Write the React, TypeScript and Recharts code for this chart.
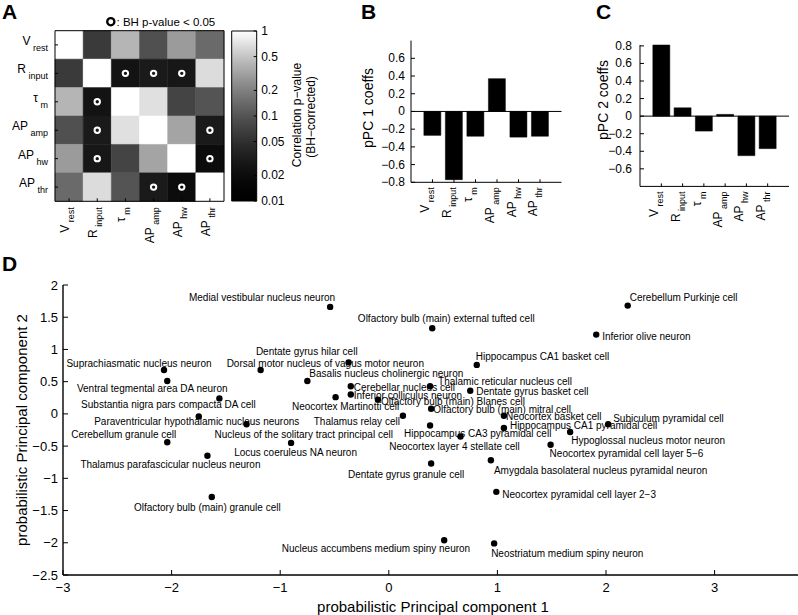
import React from 'react';
import {
  ScatterChart,
  Scatter,
  BarChart,
  Bar,
  XAxis,
  YAxis,
  ReferenceArea,
  ReferenceLine,
  Label,
} from 'recharts';

const FONT = '"Liberation Sans", Arial, Helvetica, sans-serif';

// ---------------- data ----------------
const featureMain = ['V', 'R', '\u03C4', 'AP', 'AP', 'AP'];
const featureSub = ['rest', 'input', 'm', 'amp', 'hw', 'thr'];

// BH-corrected correlation p-values (rows/cols in feature order)
const pVrest = [1, 0.062, 0.41, 0.093, 0.29, 0.143];
const pRinput = [0.062, 1, 0.025, 0.03, 0.028, 0.67];
const pTau = [0.41, 0.025, 1, 0.7, 0.075, 0.1];
const pAPamp = [0.093, 0.03, 0.7, 1, 0.33, 0.03];
const pAPhw = [0.29, 0.028, 0.075, 0.33, 1, 0.02];
const pAPthr = [0.143, 0.67, 0.1, 0.03, 0.02, 1];
const pValueRows = [pVrest, pRinput, pTau, pAPamp, pAPhw, pAPthr];
const significance = 0.05;
const colorbarTicks = [0.01, 0.02, 0.05, 0.1, 0.2, 0.5, 1];

const pc1Coeffs = [-0.27, -0.77, -0.28, 0.37, -0.29, -0.28];
const pc2Coeffs = [0.81, 0.095, -0.17, 0.02, -0.45, -0.37];
const coeffTicksB = [-0.8, -0.6, -0.4, -0.2, 0, 0.2, 0.4, 0.6];
const coeffTicksC = [-0.6, -0.4, -0.2, 0, 0.2, 0.4, 0.6, 0.8];

const neuronNames = [
  'Medial vestibular nucleus neuron',
  'Olfactory bulb (main) external tufted cell',
  'Cerebellum Purkinje cell',
  'Inferior olive neuron',
  'Dentate gyrus hilar cell',
  'Dorsal motor nucleus of vagus motor neuron',
  'Hippocampus CA1 basket cell',
  'Suprachiasmatic nucleus neuron',
  'Basalis nucleus cholinergic neuron',
  'Ventral tegmental area DA neuron',
  'Cerebellar nucleus cell',
  'Thalamic reticular nucleus cell',
  'Dentate gyrus basket cell',
  'Inferior colliculus neuron',
  'Olfactory bulb (main) Blanes cell',
  'Neocortex Martinotti cell',
  'Substantia nigra pars compacta DA cell',
  'Olfactory bulb (main) mitral cell',
  'Paraventricular hypothalamic nucleus neurons',
  'Thalamus relay cell',
  'Neocortex basket cell',
  'Subiculum pyramidal cell',
  'Hippocampus CA1 pyramidal cell',
  'Nucleus of the solitary tract principal cell',
  'Hippocampus CA3 pyramidal cell',
  'Hypoglossal nucleus motor neuron',
  'Cerebellum granule cell',
  'Locus coeruleus NA neuron',
  'Neocortex layer 4 stellate cell',
  'Neocortex pyramidal cell layer 5\u22126',
  'Thalamus parafascicular nucleus neuron',
  'Dentate gyrus granule cell',
  'Amygdala basolateral nucleus pyramidal neuron',
  'Neocortex pyramidal cell layer 2\u22123',
  'Olfactory bulb (main) granule cell',
  'Nucleus accumbens medium spiny neuron',
  'Neostriatum medium spiny neuron',
];
const pc1Scores = [
  -0.54, 0.4, 2.2, 1.91, -0.37, -1.18, 0.81, -2.07, -0.75, -2.04, -0.35, 0.38, 0.75,
  -0.35, -0.1, -0.49, -1.56, 0.39, -1.75, 0.13, 1.06, 2.02, 1.06, -1.31, 0.38, 1.67,
  -2.04, -0.9, 0.66, 1.49, -1.67, 0.39, 0.94, 0.99, -1.63, 0.51, 0.97,
];
const pc2Scores = [
  1.66, 1.33, 1.68, 1.23, 0.8, 0.68, 0.76, 0.68, 0.51, 0.51, 0.43, 0.43, 0.36,
  0.3, 0.22, 0.26, 0.24, 0.08, -0.04, -0.03, -0.03, -0.16, -0.22, -0.16, -0.18, -0.28,
  -0.44, -0.45, -0.35, -0.48, -0.65, -0.77, -0.72, -1.21, -1.29, -1.96, -2.01,
];
const pcXTicks = [-3, -2, -1, 0, 1, 2, 3];
const pcYTicks = [-2.5, -2, -1.5, -1, -0.5, 0, 0.5, 1, 1.5, 2];

// label layout (anchor, pixel offsets from the dot) - annotation placement only
const labelPlacement: [string, number, number][] = [
  ['e', 5, -9], ['m', 14, -10], ['s', 2, -8], ['s', 6, 1.5], ['e', 9, -10.5],
  ['s', -34, -7], ['s', -1, -8], ['m', -25, -7], ['s', 2, -8], ['m', -15, 7.5],
  ['s', 3, 1], ['s', 8, -5], ['s', 6, 1], ['s', 3, 0.5], ['s', 3, 1.5],
  ['m', 10, 9], ['m', -51, 6.5], ['s', 2, 1], ['m', -2, 5], ['e', -3, 6],
  ['s', 2, 1], ['s', 5, -6], ['s', 6, -3], ['s', -32, 10], ['s', -26, 8],
  ['s', 1, 9], ['e', 9, -8], ['m', 4.5, 9.5], ['m', -6, 10], ['s', -1, 9],
  ['m', -37, 9], ['e', 33, 10.5], ['s', 3, 10], ['s', 6, 3], ['m', -4.5, 10],
  ['e', 26, 8], ['s', -3, 10],
];

// ---------------- derived tables ----------------
const heatCells = pValueRows.flatMap((row, r) => row.map((p, c) => ({ r, c, p })));
const sigCells = heatCells
  .filter((d) => d.p < significance)
  .map((d) => ({ colPos: d.c + 0.5, rowPos: d.r + 0.5 }));
const pc1Data = pc1Coeffs.map((coeff, idx) => ({ idx, coeff }));
const pc2Data = pc2Coeffs.map((coeff, idx) => ({ idx, coeff }));
const neuronData = neuronNames.map((name, k) => ({ name, k, pc1: pc1Scores[k], pc2: pc2Scores[k] }));
const colorbarData = colorbarTicks.map((p) => ({ x: 0.5, p }));

const GAMMA = 1.6;
const grayLevel = (t: number) => Math.round(255 * Math.pow(Math.min(1, Math.max(0, t)), GAMMA));
const grayFor = (p: number) => {
  const g = grayLevel((Math.log10(p) + 2) / 2);
  return `rgb(${g},${g},${g})`;
};
const gradStops = Array.from({ length: 41 }, (_, k) => k / 40);

const fmt = (v: number) => (v < 0 ? '\u2212' : '') + String(Math.abs(v));
const anchorMap: Record<string, 'start' | 'middle' | 'end'> = { s: 'start', m: 'middle', e: 'end' };

// ---------------- ticks ----------------
const FeatureRotated = ({ x, y, i }: any) => (
  <text
    x={x}
    y={y}
    textAnchor="end"
    transform={`rotate(-90 ${x} ${y})`}
    fontFamily={FONT}
    fontSize={12}
    fill="#000"
  >
    <tspan>{featureMain[i]}</tspan>
    <tspan fontSize={9} dy={5}>{'\u00A0' + featureSub[i]}</tspan>
  </text>
);

const FeatureTickX = (p: any) => {
  const i = Math.floor(Number(p.payload.value));
  const shift = p.shift || 0;
  return (
    <g>
      <line x1={p.x} y1={p.y} x2={p.x} y2={p.y - 3} stroke="#000" strokeWidth={1} />
      <FeatureRotated x={p.x + shift} y={p.y + (p.gap || 6)} i={i} />
    </g>
  );
};

const HeatTickY = (p: any) => {
  const i = Math.floor(Number(p.payload.value));
  return (
    <g>
      <line x1={p.x} y1={p.y} x2={p.x + 3} y2={p.y} stroke="#000" strokeWidth={1} />
      <text x={p.x - 7} y={p.y} textAnchor="end" fontFamily={FONT} fontSize={12} fill="#000">
        <tspan>{featureMain[i]}</tspan>
        <tspan fontSize={9} dy={6}>{'\u00A0' + featureSub[i]}</tspan>
      </text>
    </g>
  );
};

const LeftTick = (p: any) => (
  <g>
    <line x1={p.x} y1={p.y} x2={p.x + (p.len || 4)} y2={p.y} stroke="#000" strokeWidth={1} />
    <text
      x={p.x - (p.gap || 6)}
      y={p.y}
      textAnchor="end"
      dominantBaseline="central"
      fontFamily={FONT}
      fontSize={p.fs || 12}
      fill="#000"
    >
      {fmt(p.payload.value)}
    </text>
  </g>
);

const BottomTick = (p: any) => (
  <g>
    <line x1={p.x} y1={p.y} x2={p.x} y2={p.y - (p.len || 5)} stroke="#000" strokeWidth={1} />
    <text
      x={p.x}
      y={p.y + (p.gap || 12)}
      textAnchor="middle"
      dominantBaseline="central"
      fontFamily={FONT}
      fontSize={p.fs || 13}
      fill="#000"
    >
      {fmt(p.payload.value)}
    </text>
  </g>
);

const CbTick = (p: any) => (
  <g>
    <line x1={p.x} y1={p.y} x2={p.x - 3} y2={p.y} stroke="#000" strokeWidth={1} />
    <text x={p.x + 4.5} y={p.y} dominantBaseline="central" fontFamily={FONT} fontSize={12} fill="#000">
      {String(p.payload.value)}
    </text>
  </g>
);

const rotatedTitle = (x: number, y: number, text: string, size: number) => () => (
  <text
    x={x}
    y={y}
    transform={`rotate(-90 ${x} ${y})`}
    textAnchor="middle"
    dominantBaseline="central"
    fontFamily={FONT}
    fontSize={size}
    fill="#000"
  >
    {text}
  </text>
);

const flatTitle = (x: number, y: number, text: string, size: number) => () => (
  <text x={x} y={y} textAnchor="middle" dominantBaseline="central" fontFamily={FONT} fontSize={size} fill="#000">
    {text}
  </text>
);

// ---------------- panels ----------------
const heatTicks = [0.5, 1.5, 2.5, 3.5, 4.5, 5.5];

function HeatmapPanel() {
  return (
    <ScatterChart width={228} height={250} margin={{ top: 30.7, right: 4, bottom: 0, left: 0 }}>
      <XAxis
        type="number"
        dataKey="colPos"
        domain={[0, 6]}
        ticks={heatTicks}
        interval={0}
        height={48.7}
        axisLine={false}
        tickLine={false}
        tickSize={0}
        tickMargin={0}
        tick={(p: any) => <FeatureTickX {...p} gap={6} shift={0} />}
      />
      <YAxis
        type="number"
        dataKey="rowPos"
        domain={[0, 6]}
        reversed
        ticks={heatTicks}
        interval={0}
        width={55}
        axisLine={false}
        tickLine={false}
        tickSize={0}
        tickMargin={0}
        tick={(p: any) => <HeatTickY {...p} />}
      />
      {heatCells.map((d) => (
        <ReferenceArea
          key={`cell-${d.r}-${d.c}`}
          x1={d.c}
          x2={d.c + 1}
          y1={d.r}
          y2={d.r + 1}
          fill={grayFor(d.p)}
          fillOpacity={1}
          stroke={grayFor(d.p)}
          strokeWidth={0.5}
        />
      ))}
      <ReferenceArea x1={0} x2={6} y1={0} y2={6} fill="none" fillOpacity={0} stroke="#000" strokeWidth={1} />
      <Scatter
        data={sigCells}
        isAnimationActive={false}
        shape={(p: any) => <circle cx={p.cx} cy={p.cy} r={2.7} fill="none" stroke="#fff" strokeWidth={2} />}
      />
    </ScatterChart>
  );
}

function ColorbarPanel() {
  return (
    <ScatterChart width={100} height={250} margin={{ top: 31, right: 0, bottom: 49, left: 6.7 }}>
      <defs>
        <linearGradient id="cbGrad" x1="0" y1="0" x2="0" y2="1">
          {gradStops.map((o) => {
            const g = grayLevel(1 - o);
            return <stop key={o} offset={o} stopColor={`rgb(${g},${g},${g})`} />;
          })}
        </linearGradient>
      </defs>
      <XAxis type="number" dataKey="x" domain={[0, 1]} hide />
      <YAxis
        type="number"
        dataKey="p"
        scale="log"
        domain={[0.01, 1]}
        allowDataOverflow
        ticks={colorbarTicks}
        interval={0}
        orientation="right"
        width={68.3}
        axisLine={false}
        tickLine={false}
        tickSize={0}
        tickMargin={0}
        tick={(p: any) => <CbTick {...p} />}
      >
        <Label content={rotatedTitle(72.3, 115, 'Correlation p\u2212value', 12)} />
      </YAxis>
      <ReferenceArea
        x1={0}
        x2={1}
        y1={0.01}
        y2={1}
        fill="url(#cbGrad)"
        fillOpacity={1}
        stroke="#000"
        strokeWidth={1}
        label={rotatedTitle(85.7, 117, '(BH\u2212corrected)', 12)}
      />
      <Scatter data={colorbarData} isAnimationActive={false} shape={() => <g />} />
    </ScatterChart>
  );
}

function CoeffPanel({
  data,
  ticks,
  title,
  plotTop,
  plotBottom,
  yAxisWidth,
  rightMargin,
  titleX,
  titleY,
}: any) {
  return (
    <BarChart
      width={yAxisWidth === 81 ? 240 : 228}
      height={250}
      data={data}
      margin={{ top: plotTop, right: rightMargin, bottom: 0, left: 0 }}
      barCategoryGap="10%"
    >
      <XAxis
        dataKey="idx"
        type="category"
        padding={{ left: 10.7, right: 10.7 }}
        height={250 - plotBottom}
        interval={0}
        axisLine={{ stroke: '#000', strokeWidth: 1 }}
        tickLine={false}
        tickSize={0}
        tickMargin={0}
        tick={(p: any) => <FeatureTickX {...p} gap={5} shift={-3} />}
      />
      <YAxis
        type="number"
        domain={[-0.8, 0.8]}
        ticks={ticks}
        interval={0}
        width={yAxisWidth}
        axisLine={{ stroke: '#000', strokeWidth: 1 }}
        tickLine={false}
        tickSize={0}
        tickMargin={0}
        tick={(p: any) => <LeftTick {...p} gap={yAxisWidth === 81 ? 6 : 8} fs={12} />}
      >
        <Label content={rotatedTitle(titleX, titleY, title, 14)} />
      </YAxis>
      <ReferenceLine y={0} stroke="#000" strokeWidth={1} />
      <Bar dataKey="coeff" fill="#000" stroke="#000" strokeWidth={0.5} isAnimationActive={false} />
    </BarChart>
  );
}

const NeuronMark = (p: any) => {
  const { cx, cy, payload } = p;
  const [anchor, dx, dy] = labelPlacement[payload.k];
  return (
    <g>
      <circle cx={cx} cy={cy} r={3.2} fill="#000" />
      <text
        x={cx + dx}
        y={cy + dy}
        textAnchor={anchorMap[anchor]}
        dominantBaseline="central"
        fontFamily={FONT}
        fontSize={10}
        fill="#000"
      >
        {payload.name}
      </text>
    </g>
  );
};

function ScoresPanel() {
  return (
    <ScatterChart width={798} height={365} margin={{ top: 35, right: 0, bottom: 0, left: 0 }}>
      <XAxis
        type="number"
        dataKey="pc1"
        domain={[-3, 3.768]}
        allowDataOverflow
        ticks={pcXTicks}
        interval={0}
        height={40}
        axisLine={{ stroke: '#000', strokeWidth: 1.4 }}
        tickLine={false}
        tickSize={0}
        tickMargin={0}
        tick={(p: any) => <BottomTick {...p} gap={12} len={5} fs={13} />}
      >
        <Label content={flatTitle(433, 356.5, 'probabilistic Principal component 1', 15)} />
      </XAxis>
      <YAxis
        type="number"
        dataKey="pc2"
        domain={[-2.5, 2]}
        allowDataOverflow
        ticks={pcYTicks}
        interval={0}
        width={63}
        axisLine={{ stroke: '#000', strokeWidth: 1.4 }}
        tickLine={false}
        tickSize={0}
        tickMargin={0}
        tick={(p: any) => <LeftTick {...p} gap={5} len={5} fs={13} />}
      >
        <Label content={rotatedTitle(21, 180, 'probabilistic Principal component 2', 15)} />
      </YAxis>
      <Scatter data={neuronData} isAnimationActive={false} shape={(p: any) => <NeuronMark {...p} />} />
    </ScatterChart>
  );
}

const letterStyle = { fontFamily: FONT, fontSize: 21, fontWeight: 700 as const };

export default function App() {
  return (
    <div
      style={{
        position: 'absolute',
        left: 0,
        top: 0,
        width: 798,
        height: 615,
        background: '#fff',
        overflow: 'hidden',
        fontFamily: FONT,
      }}
    >
      <div style={{ position: 'absolute', left: 0, top: 0 }}>
        <HeatmapPanel />
      </div>
      <div style={{ position: 'absolute', left: 225, top: 0 }}>
        <ColorbarPanel />
      </div>
      <div style={{ position: 'absolute', left: 330, top: 0 }}>
        <CoeffPanel
          data={pc1Data}
          ticks={coeffTicksB}
          title="pPC 1 coeffs"
          plotTop={40.6}
          plotBottom={182.3}
          yAxisWidth={81}
          rightMargin={8.5}
          titleX={38.3}
          titleY={108}
        />
      </div>
      <div style={{ position: 'absolute', left: 570, top: 0 }}>
        <CoeffPanel
          data={pc2Data}
          ticks={coeffTicksC}
          title="pPC 2 coeffs"
          plotTop={45}
          plotBottom={186.4}
          yAxisWidth={70}
          rightMargin={9}
          titleX={33.3}
          titleY={100}
        />
      </div>
      <div style={{ position: 'absolute', left: 0, top: 250 }}>
        <ScoresPanel />
      </div>
      <svg
        width={798}
        height={615}
        style={{ position: 'absolute', left: 0, top: 0, pointerEvents: 'none' }}
      >
        <text x={2} y={18.5} {...letterStyle}>A</text>
        <text x={361} y={19} {...letterStyle}>B</text>
        <text x={596} y={19} {...letterStyle}>C</text>
        <text x={2} y={271} {...letterStyle}>D</text>
        <circle cx={110.8} cy={21.7} r={3.6} fill="none" stroke="#000" strokeWidth={2.3} />
        <text x={116.5} y={21.7} dominantBaseline="central" fontFamily={FONT} fontSize={11.5} fill="#000">
          : BH p-value &lt; 0.05
        </text>
      </svg>
    </div>
  );
}
